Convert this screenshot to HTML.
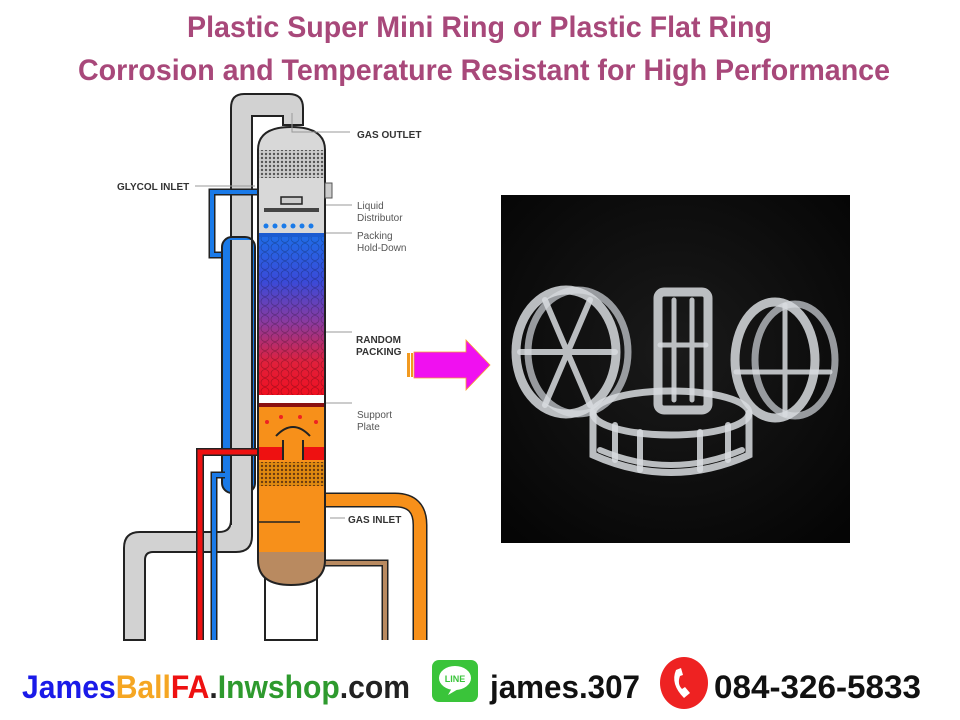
<!DOCTYPE html>
<html><head><meta charset="utf-8"><style>
html,body{margin:0;padding:0;background:#fff;}
svg{display:block;}
</style></head><body>
<svg width="960" height="720" viewBox="0 0 960 720" xmlns="http://www.w3.org/2000/svg" font-family="Liberation Sans, sans-serif">
<defs>
<linearGradient id="pk" x1="0" y1="0" x2="0" y2="1">
<stop offset="0" stop-color="#1e6ee8"/><stop offset="0.3" stop-color="#3a4ad8"/><stop offset="0.55" stop-color="#8a3aa0"/><stop offset="0.8" stop-color="#e0203c"/><stop offset="1" stop-color="#f01020"/>
</linearGradient>
<radialGradient id="bg" cx="0.5" cy="0.45" r="0.7"><stop offset="0" stop-color="#1a1a1a"/><stop offset="1" stop-color="#050505"/></radialGradient>
<pattern id="hatch" width="4" height="4" patternUnits="userSpaceOnUse"><rect width="4" height="4" fill="#ccc"/><circle cx="2" cy="2" r="1.2" fill="#555"/></pattern>
<pattern id="hatch2" width="4" height="4" patternUnits="userSpaceOnUse"><rect width="4" height="4" fill="#e08a10"/><circle cx="2" cy="2" r="1.2" fill="#6a3a10"/></pattern>
<pattern id="bub" width="10" height="9" patternUnits="userSpaceOnUse"><circle cx="5" cy="4.5" r="4" fill="none" stroke="#000" stroke-opacity="0.25" stroke-width="0.8"/></pattern>
</defs>
<text x="187" y="37" textLength="585" lengthAdjust="spacingAndGlyphs" font-size="30" font-weight="bold" fill="#a8487a">Plastic Super Mini Ring or Plastic Flat Ring</text>
<text x="78" y="80" textLength="812" lengthAdjust="spacingAndGlyphs" font-size="30" font-weight="bold" fill="#a8487a">Corrosion and Temperature Resistant for High Performance</text>

<path d="M303,125 L303,108 Q303,94 289,94 L244,94 Q231,94 231,108 L231,520 Q231,532 219,532 L140,532 Q124,532 124,548 L124,640 L145,640 L145,560 Q145,552 153,552 L236,552 Q252,552 252,536 L252,116 L283,116 L283,125 Z" fill="#d2d2d2" stroke="#222" stroke-width="2"/>
<path d="M295,200 L295,192 L212,192 L212,255 L225,255" fill="none" stroke="#222" stroke-width="7"/>
<path d="M295,200 L295,192 L212,192 L212,255 L225,255" fill="none" stroke="#1a7ae8" stroke-width="4"/>
<rect x="222" y="237" width="33" height="256" rx="10" fill="#1a7ae8" stroke="#222" stroke-width="2"/>
<path d="M225,475 L214,475 L214,640" fill="none" stroke="#222" stroke-width="7"/>
<path d="M225,475 L214,475 L214,640" fill="none" stroke="#1a7ae8" stroke-width="4"/>
<rect x="231" y="240" width="21" height="290" fill="#d2d2d2"/>
<line x1="231" y1="240" x2="231" y2="525" stroke="#222" stroke-width="2"/>
<line x1="252" y1="240" x2="252" y2="530" stroke="#222" stroke-width="2"/>
<path d="M260,452 L200,452 L200,640" fill="none" stroke="#222" stroke-width="8"/>
<path d="M260,452 L200,452 L200,640" fill="none" stroke="#ee1111" stroke-width="5"/>
<path d="M325,500 L395,500 Q420,500 420,525 L420,640" fill="none" stroke="#222" stroke-width="15"/>
<path d="M325,500 L395,500 Q420,500 420,525 L420,640" fill="none" stroke="#f7901a" stroke-width="12"/>
<path d="M320,563 L385,563 L385,640" fill="none" stroke="#222" stroke-width="7"/>
<path d="M320,563 L385,563 L385,640" fill="none" stroke="#b98a60" stroke-width="4"/>
<rect x="265" y="578" width="52" height="62" fill="#fff" stroke="#222" stroke-width="2"/>
<clipPath id="col"><path d="M258,150 Q258,127 291,127 Q325,127 325,150 L325,560 Q325,585 291,585 Q258,585 258,560 Z"/></clipPath>
<g clip-path="url(#col)">
<rect x="255" y="120" width="75" height="470" fill="#d8d8d8"/>
<rect x="255" y="150" width="75" height="28" fill="url(#hatch)"/>
<rect x="255" y="233" width="75" height="162" fill="url(#pk)"/>
<rect x="255" y="233" width="75" height="162" fill="url(#bub)"/>
<rect x="255" y="233" width="75" height="4" fill="#1a5ad0"/>
<rect x="255" y="395" width="75" height="10" fill="#fff"/>
<rect x="255" y="403" width="75" height="4" fill="#8a1010"/>
<rect x="255" y="407" width="75" height="180" fill="#f7901a"/>
<rect x="255" y="447" width="75" height="13" fill="#ee1111"/>
<rect x="255" y="462" width="75" height="24" fill="url(#hatch2)"/>
<rect x="255" y="552" width="75" height="35" fill="#b98a60"/>
<line x1="258" y1="522" x2="300" y2="522" stroke="#222" stroke-width="1.5"/>
</g>
<path d="M258,150 Q258,127 291,127 Q325,127 325,150 L325,560 Q325,585 291,585 Q258,585 258,560 Z" fill="none" stroke="#222" stroke-width="2"/>
<rect x="281" y="197" width="21" height="7" fill="#ccc" stroke="#222" stroke-width="1.5"/>
<rect x="264" y="208" width="55" height="4" fill="#444"/>
<g fill="#1a7ae8"><circle cx="266" cy="226" r="2.5"/><circle cx="275" cy="226" r="2.5"/><circle cx="284" cy="226" r="2.5"/><circle cx="293" cy="226" r="2.5"/><circle cx="302" cy="226" r="2.5"/><circle cx="311" cy="226" r="2.5"/></g>
<rect x="325" y="183" width="7" height="15" fill="#ccc" stroke="#555"/>
<path d="M283,460 L283,440 M303,460 L303,440" stroke="#222" stroke-width="2"/>
<path d="M276,436 Q293,418 310,436" fill="none" stroke="#222" stroke-width="2"/>
<rect x="284" y="440" width="18" height="22" fill="#f7901a"/>
<g fill="#ee2222"><circle cx="267" cy="422" r="2"/><circle cx="281" cy="417" r="2"/><circle cx="300" cy="417" r="2"/><circle cx="316" cy="422" r="2"/></g>
<g stroke="#999" stroke-width="1" fill="none">
<path d="M292,113 L292,132 L350,132"/><path d="M195,186 L255,186"/><path d="M326,205 L352,205"/><path d="M326,233 L352,233"/><path d="M326,332 L352,332"/><path d="M326,403 L352,403"/><path d="M330,518 L345,518"/>
</g>
<g font-weight="bold" font-size="10" fill="#333">
<text x="357" y="138">GAS OUTLET</text><text x="117" y="190">GLYCOL INLET</text>
<text x="356" y="343">RANDOM</text><text x="356" y="355">PACKING</text>
<text x="348" y="523">GAS INLET</text>
</g>
<g font-size="10" fill="#555">
<text x="357" y="209">Liquid</text><text x="357" y="221">Distributor</text>
<text x="357" y="239">Packing</text><text x="357" y="251">Hold-Down</text>
<text x="357" y="418">Support</text><text x="357" y="430">Plate</text>
</g>
<rect x="407" y="353" width="3" height="24" fill="#f29a20"/><rect x="411" y="353" width="2" height="24" fill="#f29a20"/>
<path d="M414,352 L466,352 L466,340 L490,365 L466,390 L466,378 L414,378 Z" fill="#f010f0" stroke="#f7a030" stroke-width="0.8"/>
<rect x="501" y="195" width="349" height="348" fill="url(#bg)"/>
<g fill="none" stroke="#d8dcdf" stroke-linecap="round" stroke-opacity="0.85">
<ellipse cx="578" cy="352" rx="50" ry="62" stroke-width="7" stroke="#b0b4b8"/>
<ellipse cx="566" cy="352" rx="50" ry="62" stroke-width="9"/>
<path d="M545,300 L590,405 M590,300 L545,405 M520,352 L615,352" stroke-width="6"/>
<rect x="658" y="292" width="50" height="118" rx="6" stroke-width="9"/>
<path d="M674,300 L674,400 M692,300 L692,400 M660,345 L706,345" stroke-width="5"/>
<ellipse cx="795" cy="360" rx="40" ry="56" stroke-width="7" stroke="#b0b4b8"/>
<ellipse cx="775" cy="360" rx="40" ry="58" stroke-width="9"/>
<path d="M736,372 L830,372 M785,305 L785,415" stroke-width="5"/>
<ellipse cx="671" cy="413" rx="78" ry="22" stroke-width="7"/>
<path d="M593,413 L593,455 Q671,490 749,455 L749,413" stroke-width="7"/>
<path d="M600,450 Q671,480 742,450" stroke-width="6"/>
<path d="M615,425 L615,460 M640,432 L640,470 M700,432 L700,470 M728,425 L728,460" stroke-width="6"/>
</g>
<g font-weight="bold" font-size="32">
<text x="22" y="698" textLength="388" lengthAdjust="spacingAndGlyphs"><tspan fill="#1a1ae8">James</tspan><tspan fill="#f5a623">Ball</tspan><tspan fill="#ee1111">FA</tspan><tspan fill="#222">.</tspan><tspan fill="#2e9a2e">Inwshop</tspan><tspan fill="#222">.com</tspan></text>
<text x="490" y="698" textLength="150" lengthAdjust="spacingAndGlyphs" fill="#111">james.307</text>
<text x="714" y="698" textLength="207" lengthAdjust="spacingAndGlyphs" fill="#111">084-326-5833</text>
</g>
<rect x="432" y="660" width="46" height="42" rx="7" fill="#3ac43a"/>
<ellipse cx="455" cy="678" rx="16" ry="12" fill="#fff"/>
<path d="M452,688 L448,695 L460,688 Z" fill="#fff"/>
<text x="455" y="682" text-anchor="middle" font-size="9" font-weight="bold" fill="#3ac43a">LINE</text>
<ellipse cx="684" cy="683" rx="24" ry="26" fill="#e22"/>
<path d="M676,670 Q670,684 684,698 L690,693 L685,687 L682,689 Q677,684 680,676 L683,675 L681,668 Z" fill="#fff"/>
</svg>
</body></html>
